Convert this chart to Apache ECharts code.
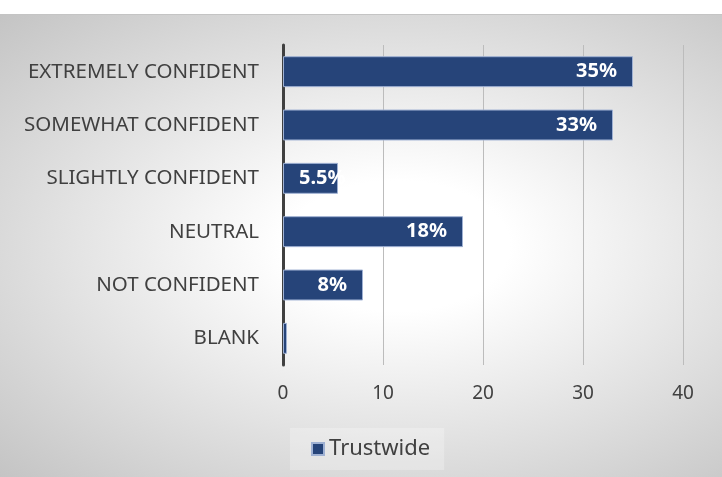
<!DOCTYPE html>
<html>
<head>
<meta charset="utf-8">
<script src="https://cdn.jsdelivr.net/npm/echarts@6/dist/echarts.min.js"></script>
<style>
  html, body { margin: 0; padding: 0; background: #fff; }
  #main {
    position: absolute; left: 0; top: 14px; width: 722px; height: 463px;
    border-top: 1px solid #c4c4c4; box-sizing: border-box;
    background: radial-gradient(ellipse farthest-corner at 55% 50%, #ffffff 20%, #c4c4c4 100%);
  }
</style>
</head>
<body>
<div id="main"></div>
<script>
// categories, top to bottom as drawn
const categories = ['EXTREMELY CONFIDENT', 'SOMEWHAT CONFIDENT', 'SLIGHTLY CONFIDENT', 'NEUTRAL', 'NOT CONFIDENT', 'BLANK']
const trustwide = [35, 33, 5.5, 18, 8, 0.4]
const valueLabels = ['35%', '33%', '5.5%', '18%', '8%', '']
const xTicks = [0, 10, 20, 30, 40]

const chart = echarts.init(document.getElementById('main'))
const font = '"Noto Sans", sans-serif'

chart.setOption({
  animation: false,
  textStyle: { fontFamily: font },
  grid: { left: 283, right: 39, top: 30, bottom: 112 },
  legend: {
    bottom: 7,
    left: 290,
    itemWidth: 12,
    itemHeight: 12,
    itemGap: 4,
    padding: [10, 14, 10, 21],
    backgroundColor: 'rgba(255,255,255,0.25)',
    textStyle: { fontSize: 22, color: '#404040', fontFamily: font },
    data: [{ name: 'Trustwide', icon: 'rect' }]
  },
  xAxis: {
    type: 'value',
    min: xTicks[0],
    max: xTicks[xTicks.length - 1],
    interval: 10,
    axisLine: { show: false },
    axisTick: { show: false },
    splitLine: { lineStyle: { color: '#bcbcbc', width: 1 } },
    axisLabel: { fontSize: 19, color: '#404040', margin: 19, fontFamily: font }
  },
  yAxis: {
    type: 'category',
    inverse: true,
    data: categories,
    axisLine: { lineStyle: { color: '#404040', width: 3 } },
    axisTick: { show: false },
    axisLabel: { fontSize: 20.5, color: '#404040', margin: 24, fontFamily: font }
  },
  series: [{
    name: 'Trustwide',
    type: 'bar',
    barWidth: '58%',
    itemStyle: { color: '#264479', borderColor: '#9fb1d3', borderWidth: 1 },
    label: {
      show: true,
      position: 'insideRight',
      distance: 16,
      color: '#fff',
      fontWeight: 'bold',
      fontSize: 20,
      fontFamily: font,
      formatter: p => valueLabels[p.dataIndex]
    },
    data: trustwide.map(v => v < 7 ? { value: v, label: { position: 'insideLeft', distance: 16 } } : v)
  }]
})
</script>
</body>
</html>
